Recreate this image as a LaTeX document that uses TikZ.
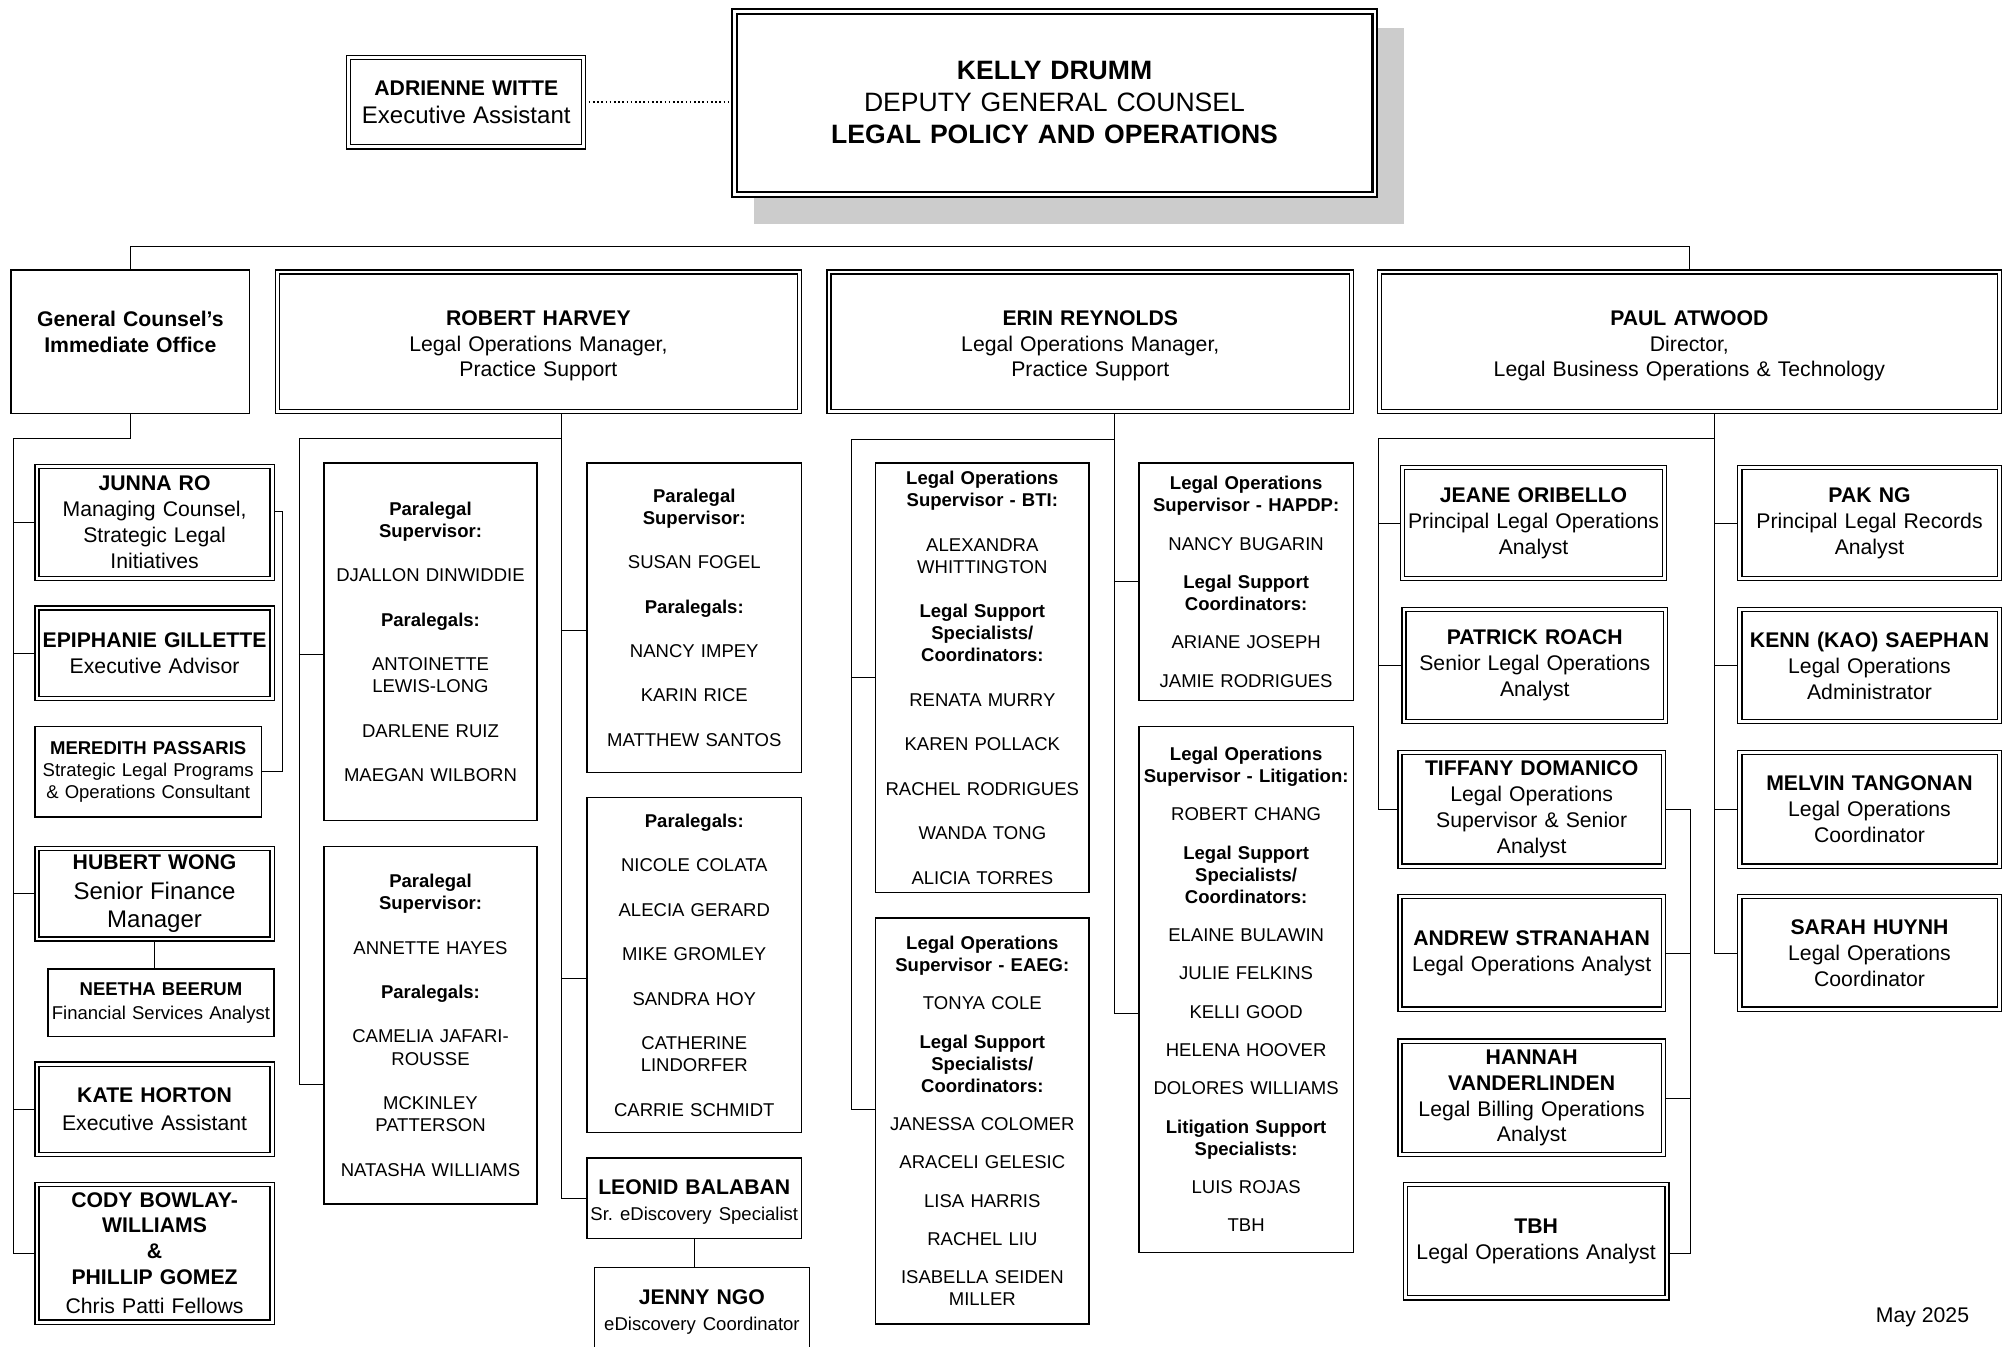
\documentclass[tikz,border=0pt]{standalone}
\usepackage{fontspec}
\setmainfont{Liberation Sans}
\usetikzlibrary{calc, backgrounds}
\definecolor{shadowgray}{RGB}{204,204,204}
\newcommand{\szS}{\fontsize{14.5}{17.3}\selectfont}
\newcommand{\szN}{\fontsize{16.6}{20.3}\selectfont}
\newcommand{\szL}{\fontsize{18.8}{22}\selectfont}
\newcommand{\szH}{\fontsize{20.8}{25}\selectfont}
\newcommand{\brk}{\\[17.5pt]}
\newcommand{\brs}{\\[12.7pt]}

\begin{document}
\begin{tikzpicture}[x=1pt, y=-1pt,
	box/.style={draw, line width=1.1pt, fill=white, inner sep=0pt, align=center, font=\szN},
	dbox/.style={box, double, double distance=2.2pt, line width=1pt},
	kbox/.style={dbox, line width=1.6pt, font=\szH},
	lst/.style={box, font=\szS},
	sz/.style 2 args={minimum width=#1pt, text width=#1pt, minimum height=#2pt},
	conn/.style={line width=1.2pt}]
	\useasboundingbox (0,0) rectangle (1568,1054);
	\clip (0,0) rectangle (1568,1054);

	\fill [shadowgray] (590,22) rectangle (1099,175);
	\node [kbox, sz={501.6}{143.6}] (kelly) at (825.5,80.5) {\textbf{KELLY DRUMM}\\DEPUTY GENERAL COUNSEL\\\textbf{LEGAL POLICY AND OPERATIONS}};
	\node [dbox, sz={184}{70}] (adrienne) at (365,80) {\textbf{ADRIENNE WITTE}\\[1.7pt]{\szL Executive Assistant}};

	\node [box, sz={187}{112}] (gc) at (102,267.5) {\textbf{General Counsel's}\\\textbf{Immediate Office}\\[-5pt]\mbox{}};
	\node [dbox, sz={409}{109}] (robert) at (421.5,267.5) {\rule{0pt}{18pt}\textbf{ROBERT HARVEY}\\Legal Operations Manager,\\Practice Support};
	\node [dbox, sz={409}{109}] (erin) at (853.5,267.5) {\rule{0pt}{18pt}\textbf{ERIN REYNOLDS}\\Legal Operations Manager,\\Practice Support};
	\node [dbox, sz={485}{109}] (paul) at (1322.5,267.5) {\rule{0pt}{18pt}\textbf{PAUL ATWOOD}\\Director,\\Legal Business Operations \& Technology};

	\node [dbox, sz={184}{88}] (junna) at (121,409) {\textbf{JUNNA RO}\\Managing Counsel,\\Strategic Legal\\Initiatives};
	\node [dbox, sz={184}{71}] (epi) at (121,511.5) {\textbf{EPIPHANIE GILLETTE}\\Executive Advisor};
	\node [lst, sz={177}{71}] (meredith) at (116,604) {\textbf{MEREDITH PASSARIS}\\Strategic Legal Programs\\\& Operations Consultant};
	\node [dbox, sz={184}{71}] (hubert) at (121,699.5) {\textbf{HUBERT WONG}\\[1.7pt]{\szL Senior Finance\\[1.7pt]Manager}};
	\node [lst, sz={177}{53}] (neetha) at (126,785) {\textbf{NEETHA BEERUM}\\[1.7pt]Financial Services Analyst};
	\node [dbox, sz={184}{71}] (kate) at (121,868.5) {\textbf{KATE HORTON}\\[1.7pt]Executive Assistant};
	\node [dbox, sz={184}{108}] (cody) at (121,981) {\textbf{CODY BOWLAY-\\WILLIAMS\\\&\\PHILLIP GOMEZ}\\[2.5pt]Chris Patti Fellows};

	\node [lst, sz={167}{280}] (ps1) at (337,502.5) {\textbf{Paralegal\\Supervisor:}\brk DJALLON DINWIDDIE\brk\textbf{Paralegals:}\brk ANTOINETTE\\LEWIS-LONG\brk DARLENE RUIZ\brk MAEGAN WILBORN};
	\node [lst, sz={167}{280}] (ps2) at (337,802.5) {\textbf{Paralegal\\Supervisor:}\brk ANNETTE HAYES\brk\textbf{Paralegals:}\brk CAMELIA JAFARI-\\ROUSSE\brk MCKINLEY\\PATTERSON\brk NATASHA WILLIAMS};
	\node [lst, sz={168}{242}] (susan) at (543.5,483.5) {\textbf{Paralegal\\Supervisor:}\brk SUSAN FOGEL\brk\textbf{Paralegals:}\brk NANCY IMPEY\brk KARIN RICE\brk MATTHEW SANTOS};
	\node [lst, sz={168}{262}] (plg) at (543.5,755.5) {\textbf{Paralegals:}\brk NICOLE COLATA\brk ALECIA GERARD\brk MIKE GROMLEY\brk SANDRA HOY\brk CATHERINE\\LINDORFER\brk CARRIE SCHMIDT};
	\node [box, sz={168}{63}] (leonid) at (543.5,938) {\rule{0pt}{18pt}\textbf{LEONID BALABAN}\\{\szS Sr.\ eDiscovery Specialist}};
	\node [box, sz={168}{70}] (jenny) at (549.5,1027) {\textbf{JENNY NGO}\\{\szS eDiscovery Coordinator}};

	\node [lst, sz={167}{336}] (bti) at (769,530.5) {\textbf{Legal Operations\\Supervisor - BTI:}\brk ALEXANDRA\\WHITTINGTON\brk\textbf{Legal Support\\Specialists/\\Coordinators:}\brk RENATA MURRY\brk KAREN POLLACK\brk RACHEL RODRIGUES\brk WANDA TONG\brk ALICIA TORRES};
	\node [lst, sz={167}{318}] (eaeg) at (769,877.5) {\textbf{Legal Operations\\Supervisor - EAEG:}\brs TONYA COLE\brs\textbf{Legal Support\\Specialists/\\Coordinators:}\brs JANESSA COLOMER\brs ARACELI GELESIC\brs LISA HARRIS\brs RACHEL LIU\brs ISABELLA SEIDEN\\MILLER};
	\node [lst, sz={168}{186}] (hapdp) at (975.5,455.5) {\textbf{Legal Operations\\Supervisor - HAPDP:}\brs NANCY BUGARIN\brs\textbf{Legal Support\\Coordinators:}\brs ARIANE JOSEPH\brs JAMIE RODRIGUES};
	\node [lst, sz={168}{412}] (litig) at (975.5,774.5) {\textbf{Legal Operations\\Supervisor - Litigation:}\brs ROBERT CHANG\brs\textbf{Legal Support\\Specialists/\\Coordinators:}\brs ELAINE BULAWIN\brs JULIE FELKINS\brs KELLI GOOD\brs HELENA HOOVER\brs DOLORES WILLIAMS\brs\textbf{Litigation Support\\Specialists:}\brs LUIS ROJAS\brs TBH};

	\node [dbox, sz={205}{87}] (jeane) at (1200.5,409.5) {\textbf{JEANE ORIBELLO}\\Principal Legal Operations\\Analyst};
	\node [dbox, sz={205}{88}] (patrick) at (1201.5,521) {\textbf{PATRICK ROACH}\\Senior Legal Operations\\Analyst};
	\node [dbox, sz={206}{89}] (tiffany) at (1199,633.5) {\textbf{TIFFANY DOMANICO}\\Legal Operations\\Supervisor \& Senior\\Analyst};
	\node [dbox, sz={206}{88}] (andrew) at (1199,746) {\textbf{ANDREW STRANAHAN}\\Legal Operations Analyst};
	\node [dbox, sz={206}{89}] (hannah) at (1199,859.5) {\textbf{HANNAH\\VANDERLINDEN}\\Legal Billing Operations\\Analyst};
	\node [dbox, sz={205}{89}] (tbh) at (1202.5,971.5) {\textbf{TBH}\\Legal Operations Analyst};
	\node [dbox, sz={203}{87}] (pak) at (1463.5,409.5) {\textbf{PAK NG}\\Principal Legal Records\\Analyst};
	\node [dbox, sz={203}{88}] (kenn) at (1463.5,521) {\textbf{KENN (KAO) SAEPHAN}\\Legal Operations\\Administrator};
	\node [dbox, sz={203}{89}] (melvin) at (1463.5,633.5) {\textbf{MELVIN TANGONAN}\\Legal Operations\\Coordinator};
	\node [dbox, sz={203}{88}] (sarah) at (1463.5,746) {\textbf{SARAH HUYNH}\\Legal Operations\\Coordinator};

	\node [font=\szN] (date) at (1505,1031) {May 2025};

	\begin{scope}[on background layer, conn]
		\draw [dotted, line width=1.3pt] (adrienne.east) -- (adrienne.east -| kelly.west);
		\coordinate (bus) at (0,193);
		\draw (gc.north) -- (gc.north |- bus) -| (paul.north);

		\coordinate (gcl) at (10,343);
		\draw (gc.south) |- (gcl) |- (cody.west);
		\foreach \n in {junna, epi, hubert, kate}
			\draw (\n.west) -- (\n.west -| gcl);
		\coordinate (jm) at (221,400);
		\draw (jm -| junna.east) -- (jm) |- (meredith.east);
		\draw (hubert.south) -- (hubert.south |- neetha.north);

		\coordinate (rv) at (439,343);
		\coordinate (rl) at (234,343);
		\coordinate (r1) at (234,512);
		\coordinate (r2) at (234,849);
		\coordinate (r3) at (439,493);
		\coordinate (r4) at (439,766);
		\draw (robert.south -| rv) -- (rv |- leonid.west) -- (leonid.west);
		\draw (rv) -- (rl) -- (r2) -- (r2 -| ps2.west);
		\draw (r1) -- (r1 -| ps1.west);
		\draw (r3) -- (r3 -| susan.west);
		\draw (r4) -- (r4 -| plg.west);
		\draw (leonid.south) -- (leonid.south |- jenny.north);

		\coordinate (ev) at (872,344);
		\coordinate (el) at (666,344);
		\coordinate (e1) at (666,530);
		\coordinate (e2) at (666,868);
		\coordinate (e3) at (872,455);
		\coordinate (e4) at (872,793);
		\draw (erin.south -| ev) -- (e4) -- (e4 -| litig.west);
		\draw (ev) -- (el) -- (e2) -- (e2 -| eaeg.west);
		\draw (e1) -- (e1 -| bti.west);
		\draw (e3) -- (e3 -| hapdp.west);

		\coordinate (pv) at (1342,343);
		\coordinate (pl) at (1079,343);
		\draw (paul.south -| pv) -- (pv |- sarah.west) -- (sarah.west);
		\draw (pv) -- (pl) |- (tiffany.west);
		\foreach \n in {jeane, patrick}
			\draw (\n.west) -- (\n.west -| pl);
		\foreach \n in {pak, kenn, melvin}
			\draw (\n.west) -- (\n.west -| pv);
		\coordinate (tr) at (1323,634);
		\coordinate (tb) at (1323,981);
		\draw (tiffany.east) -- (tiffany.east -| tr) -- (tb) -- (tb -| tbh.east);
		\foreach \n in {andrew, hannah}
			\draw (\n.east) -- (\n.east -| tr);
	\end{scope}
\end{tikzpicture}
\end{document}
